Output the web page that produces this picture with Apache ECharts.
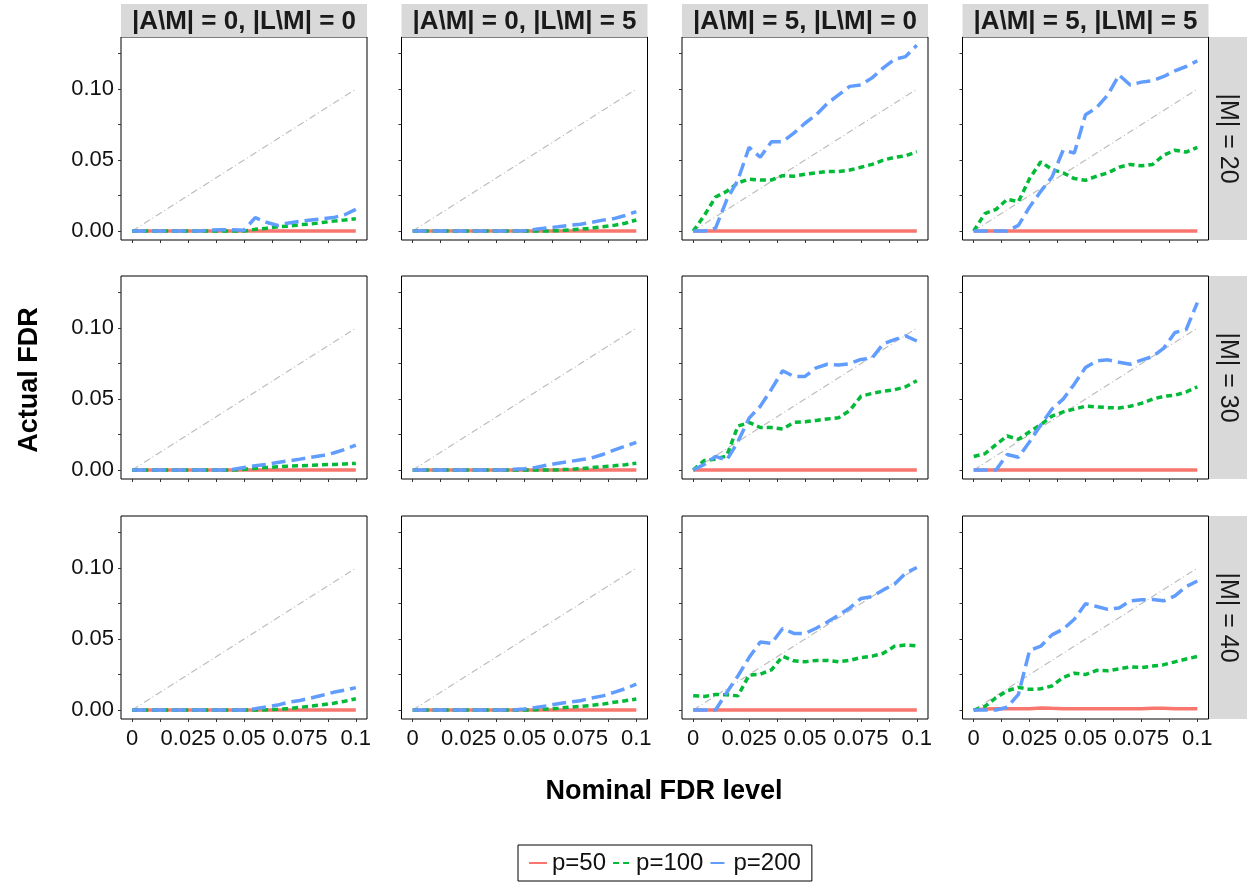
<!DOCTYPE html>
<html>
<head>
<meta charset="utf-8">
<script src="https://cdn.jsdelivr.net/npm/echarts@6/dist/echarts.min.js"></script>
<style>
  html, body { margin: 0; padding: 0; background: #ffffff; }
  #chart { width: 1249px; height: 882px; }
</style>
</head>
<body>
<div id="chart"></div>
<script>
// Nominal FDR levels (x values shared by every panel)
const nominal = [0, 0.005, 0.01, 0.015, 0.02, 0.025, 0.03, 0.035, 0.04, 0.045, 0.05,
                 0.055, 0.06, 0.065, 0.07, 0.075, 0.08, 0.085, 0.09, 0.095, 0.1];

// Facet labels
const colLabels = ['|A\\M| = 0, |L\\M| = 0', '|A\\M| = 0, |L\\M| = 5',
                   '|A\\M| = 5, |L\\M| = 0', '|A\\M| = 5, |L\\M| = 5'];
const rowLabels = ['|M| = 20', '|M| = 30', '|M| = 40'];
const seriesNames = ['p=50', 'p=100', 'p=200'];

// Tick positions and labels
const xLabelValues = [0, 0.025, 0.05, 0.075, 0.1];
const xTickValues = [0, 0.0125, 0.025, 0.0375, 0.05, 0.0625, 0.075, 0.0875, 0.1];
const yLabelValues = [0, 0.05, 0.1];
const yTickValues = [0, 0.025, 0.05, 0.075, 0.1, 0.125];

// Actual FDR, |M| = 20
const zeroFDR = [0,0,0,0,0,0,0,0,0,0,0,0,0,0,0,0,0,0,0,0,0];
const m20_a0l0_p100 = [0,0,0,0,0,0,0,0,0,0,0,0.0012,0.002,0.003,0.0035,0.0045,0.005,0.006,0.007,0.0078,0.0087];
const m20_a0l0_p200 = [0,0,0,0,0,0,0,0.0007,0.0009,0.001,0.0005,0.0095,0.0062,0.004,0.0057,0.0068,0.0078,0.0087,0.0095,0.0115,0.0153];
const m20_a0l5_p100 = [0,0,0,0,0,0,0,0,0,0,0,0,0,0.0003,0.0007,0.0013,0.0021,0.003,0.004,0.0055,0.0078];
const m20_a0l5_p200 = [0,0,0,0,0,0,0,0,0,0,0.0003,0.0012,0.0022,0.003,0.004,0.0048,0.0062,0.0077,0.0088,0.011,0.0137];
const m20_a5l0_p100 = [0,0.011,0.024,0.028,0.034,0.0366,0.036,0.036,0.039,0.0387,0.040,0.041,0.042,0.042,0.043,0.045,0.047,0.050,0.052,0.053,0.056];
const m20_a5l0_p200 = [0,0,0.002,0.022,0.036,0.059,0.052,0.063,0.063,0.069,0.076,0.082,0.090,0.096,0.102,0.103,0.108,0.115,0.121,0.123,0.131];
const m20_a5l5_p100 = [0,0.0123,0.0153,0.0224,0.0207,0.037,0.0488,0.0434,0.041,0.037,0.0358,0.0387,0.041,0.045,0.047,0.046,0.047,0.0535,0.057,0.0557,0.059];
const m20_a5l5_p200 = [0,0,0,0,0.004,0.017,0.028,0.038,0.057,0.055,0.082,0.087,0.096,0.110,0.103,0.105,0.106,0.109,0.113,0.116,0.120];

// Actual FDR, |M| = 30
const m30_a0l0_p100 = [0,0,0,0,0,0,0,0,0,0,0.0005,0.0012,0.0018,0.0023,0.0028,0.003,0.0033,0.0037,0.004,0.0043,0.0047];
const m30_a0l0_p200 = [0,0,0,0,0,0,0,0,0,0.0005,0.0018,0.003,0.004,0.0053,0.0065,0.0077,0.009,0.0102,0.012,0.0145,0.0176];
const m30_a0l5_p100 = [0,0,0,0,0,0,0,0,0,0,0,0,0,0.0002,0.0005,0.001,0.0017,0.0024,0.003,0.0038,0.0049];
const m30_a0l5_p200 = [0,0,0,0,0,0,0,0,0,0.0005,0.001,0.0018,0.0035,0.0048,0.006,0.0072,0.0085,0.011,0.014,0.0168,0.0195];
const m30_a5l0_p100 = [0,0.0068,0.0077,0.010,0.031,0.0336,0.030,0.030,0.029,0.0336,0.034,0.035,0.036,0.0369,0.042,0.052,0.054,0.0556,0.0566,0.0587,0.063];
const m30_a5l0_p200 = [0,0.004,0.0096,0.007,0.020,0.0366,0.045,0.057,0.070,0.066,0.066,0.072,0.0746,0.074,0.075,0.078,0.079,0.089,0.092,0.0946,0.091];
const m30_a5l5_p100 = [0.0096,0.0115,0.018,0.024,0.0216,0.027,0.032,0.038,0.041,0.043,0.045,0.0446,0.044,0.0437,0.045,0.047,0.050,0.052,0.0528,0.055,0.0587];
const m30_a5l5_p200 = [0,0,0,0.011,0.009,0.020,0.0317,0.043,0.050,0.0606,0.0723,0.077,0.0777,0.076,0.0746,0.0775,0.080,0.086,0.097,0.099,0.118];

// Actual FDR, |M| = 40
const m40_a0l0_p100 = [0,0,0,0,0,0,0,0,0,0,0,0,0.0002,0.0005,0.001,0.0019,0.0028,0.0038,0.0048,0.0062,0.008];
const m40_a0l0_p200 = [0,0,0,0,0,0,0,0,0,0,0,0.001,0.0022,0.0035,0.0056,0.0068,0.0085,0.0104,0.0125,0.014,0.0158];
const m40_a0l5_p100 = [0,0,0,0,0,0,0,0,0,0,0,0.0002,0.0007,0.0013,0.002,0.0026,0.0033,0.0042,0.0055,0.0065,0.0078];
const m40_a0l5_p200 = [0,0,0,0,0,0,0,0,0,0,0.0007,0.0018,0.003,0.0045,0.0057,0.0066,0.0085,0.010,0.0125,0.015,0.0183];
const m40_a5l0_p100 = [0.0101,0.0096,0.011,0.0108,0.010,0.0246,0.0253,0.0284,0.0378,0.0347,0.034,0.035,0.035,0.034,0.035,0.037,0.038,0.040,0.045,0.0458,0.0453];
const m40_a5l0_p200 = [0,0,0,0.0124,0.024,0.037,0.048,0.047,0.0575,0.054,0.054,0.0577,0.062,0.0669,0.072,0.0786,0.080,0.0847,0.0887,0.0965,0.1005];
const m40_a5l5_p50  = [0,0.0008,0.001,0.001,0.001,0.001,0.0015,0.0012,0.001,0.001,0.001,0.001,0.001,0.001,0.001,0.001,0.0012,0.0012,0.001,0.001,0.001];
const m40_a5l5_p100 = [0,0.0026,0.0087,0.0136,0.016,0.0146,0.015,0.017,0.023,0.026,0.025,0.028,0.0277,0.029,0.0305,0.030,0.031,0.032,0.034,0.036,0.0378];
const m40_a5l5_p200 = [0,0,0,0.002,0.011,0.042,0.045,0.053,0.057,0.064,0.075,0.073,0.071,0.072,0.077,0.0777,0.078,0.077,0.0805,0.087,0.091];

// Panels in reading order: rows = |M|, columns = (|A\M|, |L\M|)
const panelSeries = [
  [zeroFDR, m20_a0l0_p100, m20_a0l0_p200], [zeroFDR, m20_a0l5_p100, m20_a0l5_p200],
  [zeroFDR, m20_a5l0_p100, m20_a5l0_p200], [zeroFDR, m20_a5l5_p100, m20_a5l5_p200],
  [zeroFDR, m30_a0l0_p100, m30_a0l0_p200], [zeroFDR, m30_a0l5_p100, m30_a0l5_p200],
  [zeroFDR, m30_a5l0_p100, m30_a5l0_p200], [zeroFDR, m30_a5l5_p100, m30_a5l5_p200],
  [zeroFDR, m40_a0l0_p100, m40_a0l0_p200], [zeroFDR, m40_a0l5_p100, m40_a0l5_p200],
  [zeroFDR, m40_a5l0_p100, m40_a5l0_p200], [m40_a5l5_p50, m40_a5l5_p100, m40_a5l5_p200]
];

// Layout
const FONT = '"Liberation Sans", Arial, Helvetica, sans-serif';
const colLeft = [121, 401.5, 682, 962.5];
const rowTop = [37, 276, 516];
const panelW = 246, panelH = 203;
const stripTop = 4, stripH = 33;
const rightStripX = 1209, rightStripW = 38;

const seriesColors = ['#F8766D', '#00BA38', '#619CFF'];
const seriesDash = ['solid', [6, 4], [14, 6]];

const grids = [], xAxes = [], yAxes = [], series = [];
const fmtX = v => String(+v.toFixed(3));

for (let r = 0; r < 3; r++) {
  for (let c = 0; c < 4; c++) {
    const k = r * 4 + c;
    grids.push({
      left: colLeft[c], top: rowTop[r], width: panelW, height: panelH,
      show: true, backgroundColor: '#ffffff', borderColor: '#000000', borderWidth: 1
    });
    xAxes.push({
      gridIndex: k, type: 'value', min: -0.005, max: 0.105, position: 'bottom',
      splitLine: { show: false }, axisLine: { show: false, onZero: false },
      axisTick: { show: true, customValues: xTickValues, length: 3, lineStyle: { color: '#333333', width: 1 } },
      axisLabel: {
        show: r === 2, customValues: xLabelValues, formatter: fmtX, margin: 9,
        fontSize: 22, color: '#111111', fontFamily: FONT
      }
    });
    yAxes.push({
      gridIndex: k, type: 'value', min: -0.0063, max: 0.1368, position: 'left',
      splitLine: { show: false }, axisLine: { show: false, onZero: false },
      axisTick: { show: true, customValues: yTickValues, length: 3, lineStyle: { color: '#333333', width: 1 } },
      axisLabel: {
        show: c === 0, customValues: yLabelValues, formatter: v => v.toFixed(2), margin: 7,
        fontSize: 22, color: '#111111', fontFamily: FONT
      }
    });
    // y = x reference line
    const last = nominal.length - 1;
    series.push({
      type: 'line', xAxisIndex: k, yAxisIndex: k, symbol: 'none', silent: true, z: 2,
      data: [[nominal[0], nominal[0]], [nominal[last], nominal[last]]],
      lineStyle: { color: '#bdbdbd', width: 1.2, type: [7, 3, 1, 3] }
    });
    panelSeries[k].forEach((vals, s) => {
      series.push({
        type: 'line', name: seriesNames[s], xAxisIndex: k, yAxisIndex: k,
        symbol: 'none', z: 3 + s,
        data: nominal.map((x, i) => [x, vals[i]]),
        itemStyle: { color: seriesColors[s] },
        lineStyle: { color: seriesColors[s], width: 3.5, type: seriesDash[s] }
      });
    });
  }
}

// Facet strips and axis titles
const graphics = [];
colLabels.forEach((lab, c) => {
  graphics.push({ type: 'rect', shape: { x: colLeft[c], y: stripTop, width: panelW, height: stripH },
    style: { fill: '#D9D9D9' }, silent: true });
  graphics.push({ type: 'text', x: colLeft[c] + panelW / 2, y: stripTop + stripH / 2 + 1,
    style: { text: lab, fontSize: 26, fontWeight: 'bold', fontFamily: FONT, fill: '#1a1a1a',
      align: 'center', verticalAlign: 'middle' }, silent: true });
});
rowLabels.forEach((lab, r) => {
  graphics.push({ type: 'rect', shape: { x: rightStripX, y: rowTop[r], width: rightStripW, height: panelH },
    style: { fill: '#D9D9D9' }, silent: true });
  graphics.push({ type: 'text', x: rightStripX + rightStripW / 2, y: rowTop[r] + panelH / 2,
    rotation: -Math.PI / 2,
    style: { text: lab, fontSize: 25, fontFamily: FONT, fill: '#1a1a1a',
      align: 'center', verticalAlign: 'middle' }, silent: true });
});
graphics.push({ type: 'text', x: 30, y: 380, rotation: Math.PI / 2,
  style: { text: 'Actual FDR', fontSize: 27, fontWeight: 'bold', fontFamily: FONT, fill: '#000000',
    align: 'center', verticalAlign: 'middle' }, silent: true });
graphics.push({ type: 'text', x: 664, y: 792,
  style: { text: 'Nominal FDR level', fontSize: 27, fontWeight: 'bold', fontFamily: FONT, fill: '#000000',
    align: 'center', verticalAlign: 'middle' }, silent: true });

const chart = echarts.init(document.getElementById('chart'), null, { renderer: 'canvas' });
chart.setOption({
  animation: false,
  backgroundColor: '#ffffff',
  grid: grids,
  xAxis: xAxes,
  yAxis: yAxes,
  legend: {
    data: seriesNames, left: 518, top: 845, orient: 'horizontal',
    itemWidth: 18, itemHeight: 10, itemGap: 6, padding: [6, 11, 6, 10],
    borderColor: '#000000', borderWidth: 1, selectedMode: false,
    itemStyle: { opacity: 0 },
    textStyle: { fontSize: 24, color: '#111111', fontFamily: FONT }
  },
  graphic: graphics,
  series: series
});
</script>
</body>
</html>
